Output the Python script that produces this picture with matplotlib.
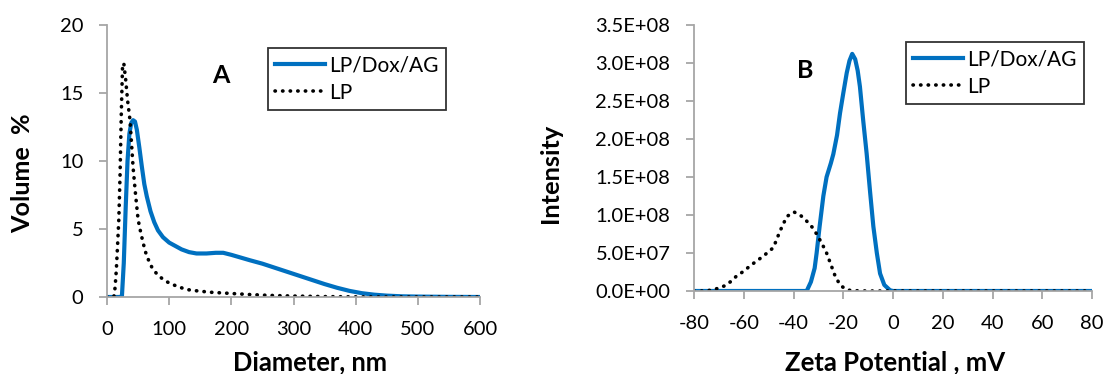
import matplotlib
matplotlib.use("Agg")
import matplotlib.pyplot as plt
from matplotlib.ticker import FuncFormatter

# ---------------- data ----------------
# Panel A: size distribution
diam_blue = [0, 10, 20, 24, 27, 30, 33, 36, 39, 42, 45, 48, 52, 56, 60, 64, 70, 76, 82, 90,
             100, 110, 120, 132, 144, 160, 175, 187, 200, 215, 230, 250, 270, 290, 310,
             330, 350, 370, 390, 410, 430, 450, 475, 500, 550, 600]
vol_blue = [0, 0, 0, 0.05, 2.5, 6.5, 10.0, 12.0, 12.8, 13.0, 12.9, 12.3, 11.0, 9.6, 8.3, 7.4,
            6.3, 5.5, 4.9, 4.4, 4.0, 3.75, 3.5, 3.3, 3.2, 3.2, 3.25, 3.25, 3.1, 2.9, 2.7,
            2.45, 2.15, 1.85, 1.55, 1.25, 0.95, 0.68, 0.45, 0.28, 0.17, 0.1, 0.05, 0.03, 0.01, 0.0]

diam_lp = [0, 8, 11, 13, 15, 17, 19, 21, 23, 25, 27, 30, 33, 37, 42, 46, 50, 54, 58, 62, 66,
           72, 80, 90, 101, 115, 128, 145, 166, 185, 203, 230, 260, 300, 350, 400, 450, 500, 550, 600]
vol_lp = [0, 0, 0, 0.7, 2.0, 3.8, 5.7, 9.0, 13.5, 17.0, 17.2, 16.0, 14.5, 13.0, 9.5, 7.5, 5.7,
          4.8, 4.0, 3.3, 2.8, 2.2, 1.7, 1.3, 1.0, 0.75, 0.55, 0.45, 0.35, 0.3, 0.25, 0.18,
          0.12, 0.07, 0.03, 0.01, 0, 0, 0, 0]

# Panel B: zeta potential distribution
zeta_blue = [-80, -60, -40, -36, -34.7, -33, -31.5, -30.7, -29.5, -28, -26.7, -25, -24, -22.5,
             -21.3, -20, -18.6, -17.5, -16.4, -15.2, -14.2, -13.3, -12, -10.6, -9.2, -7.9,
             -6.5, -5.2, -3.5, -1.2, 0, 20, 40, 60, 80]
int_blue = [0, 0, 0, 0, 0, 0.12e8, 0.3e8, 0.5e8, 0.85e8, 1.25e8, 1.5e8, 1.68e8, 1.8e8, 2.05e8,
            2.34e8, 2.6e8, 2.87e8, 3.03e8, 3.12e8, 3.05e8, 2.9e8, 2.69e8, 2.25e8, 1.81e8,
            1.3e8, 0.85e8, 0.5e8, 0.23e8, 0.08e8, 0.01e8, 0, 0, 0, 0, 0]

zeta_lp = [-80, -75, -70.9, -67.5, -65, -62.8, -60, -57.5, -55, -52.1, -48.1, -45.4, -42.7,
           -39.8, -37, -34.7, -32.5, -30.7, -28.5, -26.7, -25, -23.3, -21.3, -19.3, -17,
           -10, 0, 20, 40, 60, 80]
int_lp = [0, 0, 0.03e8, 0.07e8, 0.13e8, 0.2e8, 0.26e8, 0.33e8, 0.39e8, 0.46e8, 0.57e8, 0.79e8,
          0.98e8, 1.04e8, 0.99e8, 0.92e8, 0.84e8, 0.75e8, 0.62e8, 0.5e8, 0.35e8, 0.2e8,
          0.08e8, 0.03e8, 0.005e8, 0, 0, 0, 0, 0, 0]

labels = ["LP/Dox/AG", "LP"]
xticks_a = [0, 100, 200, 300, 400, 500, 600]
yticks_a = [0, 5, 10, 15, 20]
xticks_b = [-80, -60, -40, -20, 0, 20, 40, 60, 80]
yticks_b = [0, 0.5e8, 1.0e8, 1.5e8, 2.0e8, 2.5e8, 3.0e8, 3.5e8]

# ---------------- style ----------------
plt.rcParams['font.family'] = ['Lato', 'DejaVu Sans']
plt.rcParams['axes.unicode_minus'] = False
BLUE = "#0070C0"
GRAY = "#a6a6a6"
W, H = 1106, 374
fig = plt.figure(figsize=(W / 100, H / 100), dpi=100)
renderer = fig.canvas.get_renderer()

def px(x, y):
    return x / W, 1 - y / H

def fit(t, target, vertical=False):
    bb = t.get_window_extent(renderer)
    cur = bb.height if vertical else bb.width
    t.set_fontsize(t.get_fontsize() * target / cur)

def style_axes(ax):
    for s in ['top', 'right']:
        ax.spines[s].set_visible(False)
    for s in ['left', 'bottom']:
        ax.spines[s].set_color(GRAY)
        ax.spines[s].set_linewidth(1.3)
    ax.tick_params(axis='both', direction='out', color=GRAY, length=6, width=1.3,
                   labelsize=14.5, labelcolor='black')
    ax.tick_params(axis='x', pad=11)
    ax.tick_params(axis='y', pad=11)

DOT = (0, (0.1, 2.0))

def add_legend(ax, x, y):
    leg = ax.legend(loc='upper left', bbox_to_anchor=px(x, y),
                    bbox_transform=fig.transFigure, borderaxespad=0, fontsize=15,
                    frameon=True, fancybox=False, edgecolor='black', handlelength=2.4,
                    handletextpad=0.2, borderpad=0.35, labelspacing=0.35)
    leg.get_frame().set_linewidth(1.3)
    return leg

# Panel A
axA = fig.add_axes([107 / W, 1 - 297 / H, (480 - 107) / W, (297 - 25) / H])
axA.plot(diam_blue, vol_blue, color=BLUE, lw=3.0, label=labels[0])
axA.plot(diam_lp, vol_lp, color='black', lw=2.6, ls=DOT, dash_capstyle='round',
         label=labels[1])
axA.set_xlim(0, 600)
axA.set_ylim(0, 20)
axA.set_xticks(xticks_a)
axA.set_yticks(yticks_a)
style_axes(axA)
axA.text(183, 16.3, "A", fontsize=18, fontweight='bold', ha='center', va='center')
add_legend(axA, 268, 48)

tx = fig.text(*px(310, 362), "Diameter, nm", fontsize=16, fontweight='bold',
              ha='center', va='center')
fit(tx, 155)
ty = fig.text(*px(23, 173), "Volume  %", fontsize=16, fontweight='bold',
              ha='center', va='center', rotation=90)
fit(ty, 120, vertical=True)

# Panel B
axB = fig.add_axes([694 / W, 1 - 291 / H, (1092 - 694) / W, (291 - 25) / H])
axB.plot(zeta_blue, int_blue, color=BLUE, lw=3.0, label=labels[0])
axB.plot(zeta_lp, int_lp, color='black', lw=2.6, ls=DOT, dash_capstyle='round',
         label=labels[1])
axB.set_xlim(-80, 80)
axB.set_ylim(0, 3.5e8)
axB.set_xticks(xticks_b)
axB.set_yticks(yticks_b)
axB.yaxis.set_major_formatter(FuncFormatter(lambda v, p: "%.1E" % v))
style_axes(axB)
axB.text(-35.5, 2.9e8, "B", fontsize=18, fontweight='bold', ha='center', va='center')
add_legend(axB, 906, 42)

tx2 = fig.text(*px(895, 362), "Zeta Potential , mV", fontsize=16, fontweight='bold',
               ha='center', va='center')
fit(tx2, 221)
ty2 = fig.text(*px(551, 173), "Intensity", fontsize=16, fontweight='bold',
               ha='center', va='center', rotation=90)
fit(ty2, 100, vertical=True)

fig.savefig("out.png", dpi=100)
